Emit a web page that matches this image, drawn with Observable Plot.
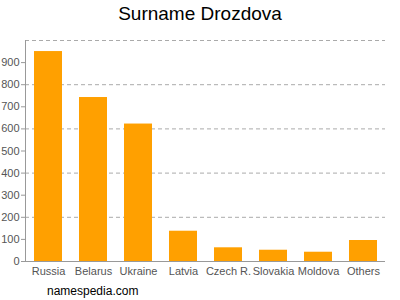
<!DOCTYPE html>
<html><head><meta charset="utf-8">
<script src="https://cdn.jsdelivr.net/npm/d3@7"></script>
<script src="https://cdn.jsdelivr.net/npm/@observablehq/plot@0.6"></script>
<style>
body{margin:0;background:#fff;font-family:"Liberation Sans",Arial,sans-serif;}
#wrap{position:relative;width:400px;height:300px;}
#title{position:absolute;left:0;top:3px;width:400px;text-align:center;font-size:19px;color:#000;}
#foot{position:absolute;left:47px;top:284px;font-size:12px;color:#000;}
#chart{position:absolute;left:0;top:0;}
#chart svg text{font-size:11px;}
</style></head>
<body><div id="wrap"><div id="chart"></div><div id="title">Surname Drozdova</div><div id="foot">namespedia.com</div></div>
<script>
const countries = ["Russia","Belarus","Ukraine","Latvia","Czech R.","Slovakia","Moldova","Others"];
const counts = [950, 742, 622, 137, 62, 51, 42, 95];
const yTicks = [0,100,200,300,400,500,600,700,800,900];
const gridTicks = [200,400,600,800,1000];
const data = countries.map((c,i)=>({country:c, value:counts[i]}));
const chart = Plot.plot({
  width:400, height:300,
  marginTop:40, marginBottom:39, marginLeft:25, marginRight:15,
  style:{fontFamily:"Liberation Sans, Arial, sans-serif", fontSize:"11px", color:"#555", background:"transparent"},
  x:{domain:countries, paddingInner:0.38, paddingOuter:0.19, label:null},
  y:{domain:[0,1000], label:null},
  marks:[
    Plot.ruleY(gridTicks,{stroke:"#aaa", strokeDasharray:"4,3"}),
    Plot.barY(data,{x:"country", y:"value", fill:"#FFA000"}),
    Plot.ruleY([0],{stroke:"#999"}),
    Plot.axisY({ticks:yTicks, tickSize:4, tickPadding:2, stroke:"#999", fontSize:11}),
    Plot.axisX({tickSize:0, tickPadding:6, fontSize:11}),
    Plot.frame({anchor:"left", stroke:"#999"})
  ]
});
document.getElementById("chart").appendChild(chart);
</script></body></html>
